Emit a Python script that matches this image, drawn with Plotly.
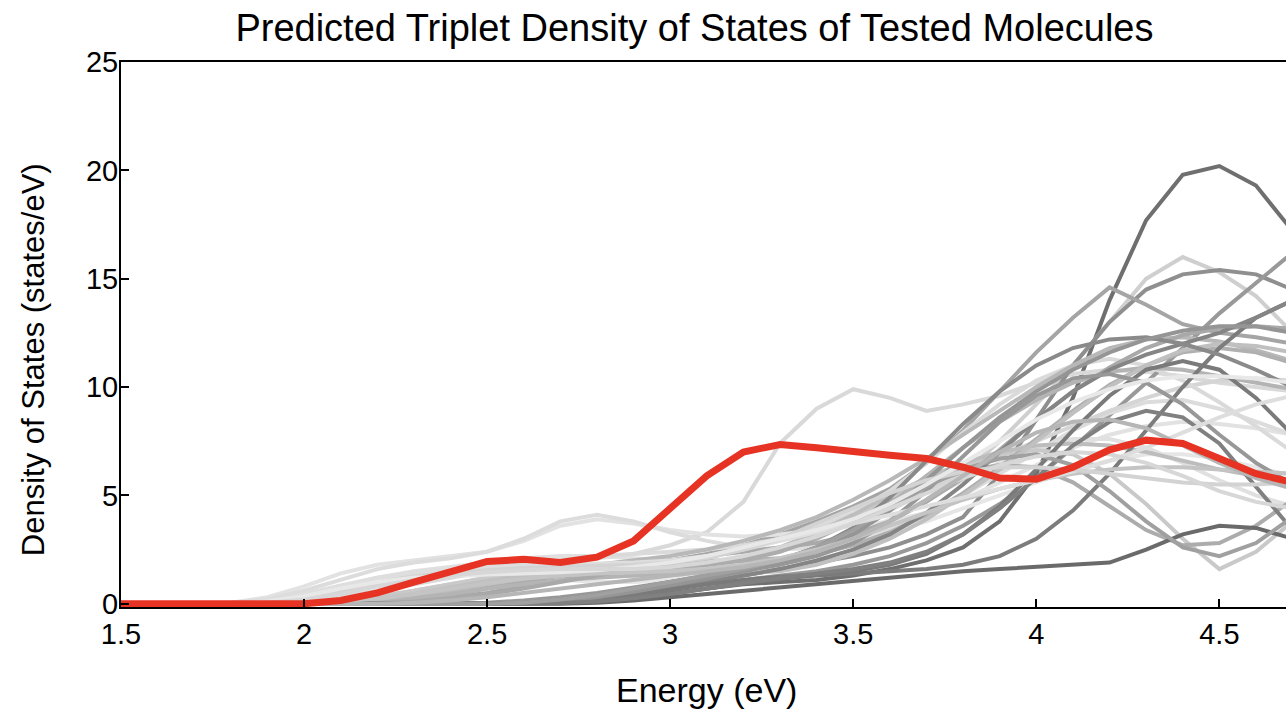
import plotly.graph_objects as go

energy = [1.5, 1.6, 1.7, 1.8, 1.9, 2.0, 2.1, 2.2, 2.3, 2.4, 2.5, 2.6, 2.7, 2.8, 2.9, 3.0,
          3.1, 3.2, 3.3, 3.4, 3.5, 3.6, 3.7, 3.8, 3.9, 4.0, 4.1, 4.2, 4.3, 4.4, 4.5, 4.6, 4.7]

highlight = [0, 0, 0, 0, 0, 0, 0.15, 0.5, 1.0, 1.5, 1.95, 2.05, 1.9, 2.15, 2.9, 4.4, 5.9, 7.0, 7.35,
             7.2, 7.0, 6.85, 6.7, 6.3, 5.8, 5.75, 6.3, 7.1, 7.55, 7.4, 6.7, 6.0, 5.6]

g01 = [0,0,0,0,0,0,0,0,0,0,0, 0.05,0.1,0.2,0.35,0.5,0.7,0.9,1.0,1.1,1.3,1.6,2.0,2.6,3.8,6.0,9.5,14.0,17.7,19.8,20.2,19.3,17.2]
g02 = [0,0,0,0,0,0, 0.1,0.3,0.6,0.9,1.2,1.4,1.5,1.6,1.6,1.6,1.7,1.8,2.0,2.4,3.0,3.8,4.8,6.0,7.5,9.2,11.0,13.0,15.0,16.0,15.3,14.2,12.5]
g03 = [0,0,0,0, 0.1,0.3,0.6,0.9,1.2,1.5,1.7,1.9,2.0,2.1,2.3,2.7,3.3,4.7,7.4,9.0,9.9,9.5,8.9,9.2,9.6,10.2,10.6,10.8,10.7,10.5,10.2,10.0,9.8]
g04 = [0,0,0,0,0,0,0,0,0,0,0, 0.03,0.1,0.25,0.45,0.7,1.0,1.3,1.6,1.9,2.2,2.6,3.2,4.0,6.0,8.5,11.0,13.0,14.5,15.2,15.4,15.2,14.5]
g05 = [0,0,0,0,0,0,0, 0.05,0.15,0.3,0.5,0.8,1.1,1.4,1.7,2.0,2.3,2.7,3.2,3.8,4.5,5.3,6.5,8.0,9.8,11.6,13.2,14.6,13.8,12.9,12.5,12.3,12.0]
g06 = [0,0,0,0,0,0,0,0,0,0,0, 0.05,0.15,0.3,0.5,0.7,0.9,1.1,1.3,1.5,1.8,2.2,2.8,3.6,4.6,5.8,7.2,8.7,10.2,11.8,13.4,14.8,16.2]
g07 = [0,0,0, 0.05,0.3,0.8,1.4,1.8,2.0,2.2,2.4,2.9,3.6,3.9,3.7,3.4,3.2,3.1,3.2,3.4,3.6,3.8,4.2,4.8,5.6,6.4,7.2,7.8,8.2,8.4,8.3,8.1,7.8]
g08 = [0,0,0, 0.02,0.2,0.6,1.1,1.6,1.9,2.1,2.4,3.0,3.8,4.1,3.8,3.3,2.9,2.6,2.5,2.6,2.9,3.4,4.1,5.0,6.0,7.0,8.0,8.8,9.3,9.4,9.0,8.4,7.8]
g09 = [0,0,0,0, 0.1,0.4,0.8,1.2,1.5,1.7,1.9,2.1,2.2,2.2,2.1,2.0,1.9,1.9,2.1,2.5,3.1,3.9,4.8,5.7,6.5,7.2,7.6,7.6,7.2,6.5,5.7,5.0,4.5]
g10 = [0,0,0,0, 0.05,0.3,0.6,1.0,1.3,1.5,1.6,1.5,1.4,1.3,1.3,1.3,1.4,1.6,2.0,2.6,3.4,4.3,5.2,6.0,6.8,7.5,8.2,8.9,9.5,10.0,10.3,10.4,10.3]
g11 = [0,0,0,0, 0.05,0.2,0.5,0.9,1.2,1.3,1.3,1.2,1.1,1.0,1.0,1.1,1.3,1.6,2.0,2.4,2.8,3.3,3.8,4.4,5.0,5.6,6.2,6.6,6.9,6.9,6.7,6.3,5.9]
g12 = [0,0,0,0,0, 0.1,0.3,0.6,0.9,1.2,1.5,1.8,2.0,2.2,2.3,2.4,2.5,2.7,3.0,3.5,4.2,5.2,6.5,7.9,9.2,10.3,11.0,11.3,11.0,10.3,9.3,8.2,7.0]
g13 = [0,0,0,0,0, 0.05,0.15,0.35,0.6,0.9,1.2,1.5,1.7,1.8,1.8,1.8,1.9,2.1,2.5,3.1,3.9,4.8,5.7,6.4,6.9,7.1,6.9,6.0,4.6,3.0,1.6,2.4,3.8]
g14 = [0,0,0,0,0,0, 0.05,0.2,0.4,0.7,1.0,1.3,1.6,1.8,2.0,2.2,2.5,2.9,3.4,4.0,4.8,5.7,6.7,7.8,8.9,10.0,11.0,11.8,12.2,12.3,12.1,11.7,11.2]
g15 = [0,0,0,0,0,0, 0.02,0.1,0.3,0.5,0.8,1.1,1.4,1.7,1.9,2.0,2.0,2.0,2.1,2.3,2.7,3.3,4.1,5.1,6.3,7.6,8.9,10.1,11.0,11.6,11.8,11.6,11.1]
g16 = [0,0,0,0,0,0, 0.05,0.15,0.35,0.6,0.9,1.1,1.3,1.4,1.5,1.6,1.8,2.1,2.6,3.3,4.1,5.0,5.8,6.5,7.0,7.3,7.4,7.3,7.0,6.6,6.2,5.9,5.7]
g17 = [0,0,0,0,0,0,0, 0.05,0.2,0.4,0.7,1.0,1.3,1.5,1.6,1.7,1.8,2.0,2.4,3.0,3.8,4.7,5.5,6.1,6.4,6.3,5.6,4.5,3.4,2.7,2.8,3.6,4.8]
g18 = [0,0,0,0,0,0, 0.03,0.1,0.25,0.45,0.7,0.9,1.1,1.2,1.3,1.4,1.5,1.7,2.0,2.6,3.5,4.6,5.9,7.2,8.4,9.4,10.2,10.7,10.9,10.8,10.5,10.2,9.9]
g19 = [0,0,0,0,0,0, 0.05,0.2,0.45,0.75,1.05,1.3,1.5,1.6,1.6,1.5,1.4,1.4,1.5,1.8,2.3,3.0,3.9,5.0,6.2,7.5,8.8,10.0,11.0,11.7,12.0,11.9,11.6]
g20 = [0,0,0,0,0,0,0, 0.03,0.1,0.25,0.45,0.7,1.0,1.3,1.6,1.9,2.2,2.4,2.6,2.8,3.2,3.8,4.7,5.8,7.1,8.5,9.8,10.9,11.8,12.4,12.7,12.8,12.7]
g21 = [0,0,0,0,0,0,0,0,0,0,0,0, 0.02,0.1,0.25,0.45,0.7,0.95,1.15,1.3,1.4,1.5,1.6,1.8,2.2,3.0,4.3,6.0,8.0,10.0,11.8,13.2,14.0]
g22 = [0,0,0,0,0,0,0,0,0,0,0, 0.05,0.15,0.3,0.5,0.75,1.0,1.3,1.6,2.0,2.5,3.2,4.2,5.5,7.0,8.5,9.8,10.8,11.5,12.0,12.5,13.2,14.0]
g23 = [0,0,0,0,0,0,0,0,0,0,0,0,0, 0.05,0.15,0.3,0.45,0.6,0.75,0.9,1.05,1.2,1.35,1.5,1.6,1.7,1.8,1.9,2.5,3.2,3.6,3.5,3.0]
g24 = [0,0,0,0,0,0,0,0,0,0,0,0, 0.05,0.2,0.4,0.65,0.9,1.1,1.25,1.35,1.5,1.8,2.3,3.2,4.5,6.2,8.0,9.6,10.8,11.2,10.8,9.5,7.8]
g25 = [0,0,0,0,0,0,0,0,0,0, 0.05,0.15,0.3,0.5,0.75,1.0,1.25,1.5,1.8,2.2,2.8,3.8,5.2,6.8,8.4,9.6,10.4,10.6,10.2,9.2,7.8,6.5,5.5]
g26 = [0,0,0,0,0,0,0,0,0,0,0, 0.05,0.2,0.4,0.7,1.0,1.3,1.6,2.0,2.6,3.5,4.9,6.6,8.3,9.8,11.0,11.8,12.2,12.3,12.0,11.5,10.8,10.0]
g27 = [0,0,0,0,0,0,0,0,0,0,0, 0.03,0.12,0.3,0.55,0.85,1.15,1.5,1.9,2.4,3.2,4.3,5.7,7.2,8.6,9.8,10.8,11.6,12.2,12.6,12.8,12.8,12.5]
g28 = [0,0,0,0,0,0,0,0,0,0,0,0, 0.03,0.1,0.25,0.45,0.7,0.95,1.2,1.4,1.6,1.9,2.4,3.2,4.4,5.8,7.3,8.4,8.9,8.6,7.4,5.4,3.4]
g29 = [0,0,0,0,0,0,0,0,0,0,0, 0.05,0.2,0.4,0.7,1.0,1.3,1.6,2.0,2.6,3.4,4.4,5.4,6.2,6.7,6.9,6.4,5.2,3.8,2.6,2.2,2.8,4.0]
g30 = [0,0,0,0,0, 0.03,0.1,0.25,0.45,0.7,0.95,1.15,1.3,1.4,1.45,1.5,1.6,1.8,2.1,2.5,3.0,3.6,4.2,4.8,5.3,5.7,6.0,6.2,6.3,6.3,6.2,6.1,6.0]
g31 = [0,0,0, 0.02,0.15,0.45,0.85,1.2,1.45,1.6,1.7,1.75,1.8,1.85,1.9,2.0,2.2,2.5,2.9,3.3,3.7,4.1,4.5,4.9,5.3,5.7,6.1,6.6,7.2,7.9,8.6,9.2,9.6]
g32 = [0,0,0,0, 0.05,0.25,0.55,0.9,1.2,1.4,1.55,1.65,1.7,1.75,1.8,1.9,2.1,2.5,3.0,3.7,4.4,5.1,5.7,6.1,6.3,6.3,6.2,6.0,5.8,5.6,5.5,5.5,5.6]
g33 = [0,0,0, 0.02,0.1,0.35,0.7,1.0,1.2,1.3,1.35,1.4,1.45,1.55,1.7,1.9,2.2,2.6,3.0,3.4,3.9,4.6,5.5,6.5,7.5,8.5,9.3,9.9,10.3,10.5,10.5,10.4,10.2]
g34 = [0,0,0,0, 0.05,0.2,0.45,0.8,1.1,1.3,1.45,1.55,1.6,1.6,1.6,1.7,1.9,2.2,2.6,3.1,3.7,4.4,5.1,5.8,6.4,6.8,7.0,6.9,6.5,5.9,5.2,4.7,4.4]
g35 = [0,0,0,0,0,0,0,0, 0.05,0.15,0.3,0.5,0.7,0.9,1.1,1.3,1.5,1.7,2.0,2.4,3.0,3.8,4.8,5.9,7.0,7.9,8.4,8.5,8.1,7.3,6.5,5.8,5.3]

gray_series = [g01, g02, g03, g04, g05, g06, g07, g08, g09, g10, g11, g12, g13, g14, g15, g16, g17,
               g18, g19, g20, g21, g22, g23, g24, g25, g26, g27, g28, g29, g30, g31, g32, g33, g34, g35]
gray_colors = ["#6f6f6f", "#cfcfcf", "#d9d9d9", "#8f8f8f", "#a5a5a5", "#999999", "#e2e2e2", "#dcdcdc",
               "#e0e0e0", "#d5d5d5", "#e6e6e6", "#dadada", "#c9c9c9", "#b8b8b8", "#b0b0b0", "#bdbdbd",
               "#acacac", "#b4b4b4", "#c0c0c0", "#a9a9a9", "#7c7c7c", "#858585", "#6a6a6a", "#7a7a7a",
               "#989898", "#8a8a8a", "#959595", "#808080", "#a0a0a0", "#c4c4c4", "#dedede", "#d3d3d3",
               "#e8e8e8", "#d7d7d7", "#b6b6b6"]

x_ticks = [1.5, 2, 2.5, 3, 3.5, 4, 4.5]
x_tick_text = ["1.5", "2", "2.5", "3", "3.5", "4", "4.5"]
y_ticks = [0, 5, 10, 15, 20, 25]

for s in gray_series + [highlight]:
    assert len(s) == len(energy), len(s)

FONT = "Liberation Sans, Arial, Helvetica, sans-serif"

fig = go.Figure()
for i, (vals, col) in enumerate(zip(gray_series, gray_colors)):
    fig.add_trace(go.Scatter(x=energy, y=vals, mode="lines", name=f"Molecule {i + 1}",
                             line=dict(color=col, width=4), showlegend=False))
fig.add_trace(go.Scatter(x=energy, y=highlight, mode="lines", name="Highlighted molecule",
                         line=dict(color="#e63323", width=7), showlegend=False))

fig.update_layout(
    width=1286, height=710,
    margin=dict(l=121, r=0, t=62, b=103),
    paper_bgcolor="white", plot_bgcolor="white",
    font=dict(family=FONT, color="black"),
    title=dict(text="Predicted Triplet Density of States of Tested Molecules",
               font=dict(size=38, family=FONT, color="black"),
               x=0.54, xref="container", xanchor="center",
               y=1 - 28 / 710, yref="container", yanchor="middle"),
    xaxis=dict(range=[1.5, 4.682], tickvals=x_ticks, ticktext=x_tick_text,
               ticks="inside", ticklen=8, tickwidth=2, tickcolor="black",
               showline=True, linecolor="black", linewidth=2, mirror=True,
               showgrid=False, zeroline=False,
               tickfont=dict(size=29, family=FONT, color="black"),
               automargin=False),
    yaxis=dict(range=[-0.15, 25], tickvals=y_ticks,
               ticks="inside", ticklen=8, tickwidth=2, tickcolor="black",
               showline=True, linecolor="black", linewidth=2,
               showgrid=False, zeroline=False, ticklabelstandoff=-5,
               tickfont=dict(size=29, family=FONT, color="black"),
               automargin=False),
    annotations=[
        dict(text="Energy (eV)", xref="paper", yref="paper", x=0.503, y=-0.152,
             xanchor="center", yanchor="middle", showarrow=False,
             font=dict(size=34, family=FONT, color="black")),
        dict(text="Density of States (states/eV)", xref="paper", yref="paper",
             x=-0.0755, y=0.453, xanchor="center", yanchor="middle", textangle=-90,
             showarrow=False, font=dict(size=31, family=FONT, color="black")),
    ],
)

fig.write_html("out.html")
